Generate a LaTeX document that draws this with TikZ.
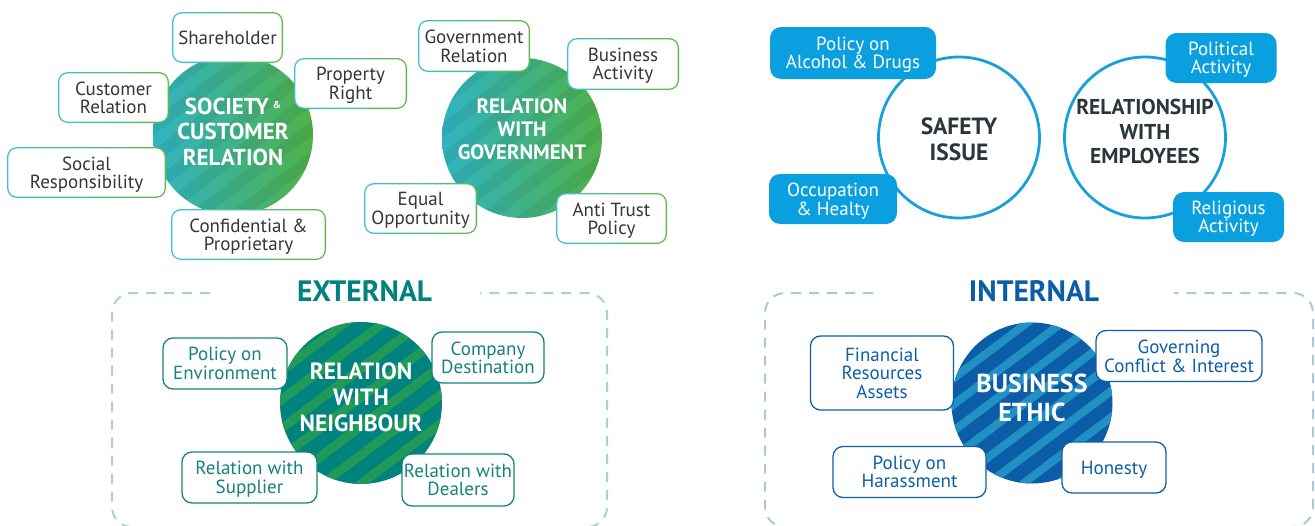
\documentclass[tikz,border=0pt]{standalone}
\usepackage{fontspec}
\setmainfont{PT Sans}
\definecolor{gcyan}{HTML}{40C0D2}
\definecolor{ggreen}{HTML}{63BB46}
\definecolor{soccyan}{HTML}{30B4C3}
\definecolor{socgreen}{HTML}{4FB24A}
\definecolor{cteal}{HTML}{00837E}
\definecolor{cstripeg}{HTML}{1F9A58}
\definecolor{cnavy}{HTML}{0B5DA7}
\definecolor{clightblue}{HTML}{2190C3}
\definecolor{cblue}{HTML}{0AA0E0}
\definecolor{cring}{HTML}{18A0DD}
\definecolor{cdark}{HTML}{2B363C}
\definecolor{ctext}{HTML}{363636}
\definecolor{cdashext}{HTML}{A6D2D2}
\definecolor{cdashint}{HTML}{A8C7E2}
\definecolor{cboxteal}{HTML}{16837F}
\definecolor{cboxnavy}{HTML}{0D5FA8}
\newcommand{\boxfont}{\fontsize{19}{18.5}\selectfont}
% diagonal stripes (rising at 37 degrees) inside a path picture
\newcommand{\mystripes}[3]{%
  \foreach \k in {-7,...,7} {%
    \pgfmathsetmacro{\sa}{\k*#2}%
    \pgfmathsetmacro{\sb}{\k*#2+#3}%
    \pgfmathsetmacro{\ax}{-103.8-\sa*0.6018}\pgfmathsetmacro{\ay}{-78.2+\sa*0.7986}%
    \pgfmathsetmacro{\bx}{103.8-\sa*0.6018}\pgfmathsetmacro{\by}{78.2+\sa*0.7986}%
    \pgfmathsetmacro{\cx}{103.8-\sb*0.6018}\pgfmathsetmacro{\cy}{78.2+\sb*0.7986}%
    \pgfmathsetmacro{\dx}{-103.8-\sb*0.6018}\pgfmathsetmacro{\dy}{-78.2+\sb*0.7986}%
    \fill[#1] ([shift={(\ax pt,\ay pt)}]path picture bounding box.center)
      -- ([shift={(\bx pt,\by pt)}]path picture bounding box.center)
      -- ([shift={(\cx pt,\cy pt)}]path picture bounding box.center)
      -- ([shift={(\dx pt,\dy pt)}]path picture bounding box.center) -- cycle;}}
\begin{document}
\begin{tikzpicture}[x=1pt,y=-1pt,
  gbox/.style={rounded corners=10pt, inner sep=0pt, minimum height=51pt, align=center,
    font=\boxfont, text=ctext, text depth=0pt,
    path picture={\shade[left color=gcyan,right color=ggreen]
        (path picture bounding box.south west) rectangle (path picture bounding box.north east);
      \fill[white,rounded corners=8.6pt]
        ([shift={(1.4pt,1.4pt)}]path picture bounding box.south west) rectangle
        ([shift={(-1.4pt,-1.4pt)}]path picture bounding box.north east);}},
  tbox/.style={rounded corners=10pt, inner sep=0pt, minimum height=51pt, align=center,
    font=\boxfont, text=cboxteal, draw=cboxteal, line width=1.3pt, fill=white, text depth=0pt},
  nbox/.style={rounded corners=10pt, inner sep=0pt, minimum height=51pt, align=center,
    font=\boxfont, text=cboxnavy, draw=cboxnavy, line width=1.3pt, fill=white, text depth=0pt},
  bbox/.style={rounded corners=11pt, inner sep=0pt, minimum height=50pt, align=center,
    font=\boxfont, text=white, fill=cblue, text depth=0pt},
  circ/.style={circle, inner sep=0pt, minimum size=160pt},
  ring/.style={circle, inner sep=0pt, minimum size=161pt, draw=cring, line width=2.8pt, fill=white},
  ctitle/.style={align=center, inner sep=0pt, text=white},
  dtitle/.style={align=center, inner sep=0pt, text=cdark},
  frame/.style={line width=2pt, dash pattern=on 10pt off 8pt, rounded corners=20pt}
]
\useasboundingbox (0,0) rectangle (1315,525);
\clip (0,0) rectangle (1315,525);

% ---------- frames ----------
\draw[frame, draw=cdashext] (210,293) -- (112,293) -- (112,527) -- (607,527) -- (607,293) -- (480,293);
\draw[frame, draw=cdashint] (873,293) -- (765,293) -- (765,527) -- (1313,527) -- (1313,293) -- (1174,293);
\node[inner sep=0pt, text=cteal, font=\fontsize{29.5}{29.5}\selectfont\bfseries] (ext) at (364.5,291.5) {EXTERNAL};
\node[inner sep=0pt, text=cnavy, font=\fontsize{29.5}{29.5}\selectfont\bfseries] (int) at (1034,291.5) {INTERNAL};

% ---------- circles ----------
\node[circ, path picture={\shade[left color=soccyan,right color=socgreen]
   (path picture bounding box.south west) rectangle (path picture bounding box.north east);
   \mystripes{black,opacity=0.06}{24}{12}}] (soc) at (233,135) {};
\node[circ, path picture={\shade[left color=soccyan,right color=socgreen]
   (path picture bounding box.south west) rectangle (path picture bounding box.north east);
   \mystripes{black,opacity=0.06}{24}{12}}] (gov) at (522,138) {};
\node[ring] (saf) at (959,137.5) {};
\node[ring] (emp) at (1145,137.5) {};
\node[circ, minimum size=162pt, fill=cteal, path picture={\mystripes{cstripeg}{23}{9}}] (nei) at (361,403) {};
\node[circ, minimum size=161pt, fill=cnavy, path picture={\mystripes{clightblue}{21}{8}}] (bus) at (1032,403) {};

% ---------- circle titles ----------
\node[ctitle, font=\fontsize{23}{25.5}\selectfont\bfseries] (soct) at (233,131.5)
  {SOCIETY\,\raisebox{6pt}{\fontsize{10}{10}\selectfont\&}\\CUSTOMER\\RELATION};
\node[ctitle, font=\fontsize{20.8}{23}\selectfont\bfseries] (govt) at (522,129)
  {RELATION\\WITH\\GOVERNMENT};
\node[dtitle, font=\fontsize{23.5}{26}\selectfont\bfseries] (saft) at (959,139)
  {SAFETY\\ISSUE};
\node[dtitle, font=\fontsize{21.5}{24.5}\selectfont\bfseries] (empt) at (1145,131.5)
  {RELATIONSHIP\\WITH\\EMPLOYEES};
\node[ctitle, font=\fontsize{23.5}{26}\selectfont\bfseries] (neit) at (361,397)
  {RELATION\\WITH\\NEIGHBOUR};
\node[ctitle, font=\fontsize{26}{29}\selectfont\bfseries] (bust) at (1032,397.5)
  {BUSINESS\\ETHIC};

% ---------- green boxes ----------
\node[gbox, minimum width=111pt] (sh) at (227.5,37.5) {Shareholder};
\node[gbox, minimum width=111pt] (cr) at (113.5,97.5) {Customer\\Relation};
\node[gbox, minimum width=113pt] (pr) at (350.5,83.5) {Property\\Right};
\node[gbox, minimum width=159pt] (sr) at (86.5,172.5) {Social\\Responsibility};
\node[gbox, minimum width=155pt] (cp) at (248.5,234.5) {Confidential \&\\Proprietary};
\node[gbox, minimum width=112pt, minimum height=52pt] (gr) at (474,46) {Government\\Relation};
\node[gbox, minimum width=112pt, minimum height=52pt] (ba) at (623,64) {Business\\Activity};
\node[gbox, minimum width=113pt] (eo) at (420.5,208.5) {Equal\\Opportunity};
\node[gbox, minimum width=111pt] (at) at (611.5,218.5) {Anti Trust\\Policy};

% ---------- blue boxes ----------
\node[bbox, minimum width=166pt, minimum height=52pt] (pad) at (853,53) {Policy on\\Alcohol \& Drugs};
\node[bbox, minimum width=128pt] (oh) at (833,199) {Occupation\\\& Healty};
\node[bbox, minimum width=111pt] (pa) at (1221,58) {Political\\Activity};
\node[bbox, minimum width=111pt] (ra) at (1228.5,217) {Religious\\Activity};

% ---------- teal boxes ----------
\node[tbox, minimum width=124pt] (pe) at (225,363.5) {Policy on\\Environment};
\node[tbox, minimum width=112pt] (cd) at (488,357.5) {Company\\Destination};
\node[tbox, minimum width=135pt] (rs) at (249.5,477.5) {Relation with\\Supplier};
\node[tbox, minimum width=112pt, minimum height=52pt] (rd) at (458,480) {Relation with\\Dealers};

% ---------- navy boxes ----------
\node[nbox, minimum width=143pt, minimum height=74pt] (fr) at (882,373) {Financial\\Resources\\Assets};
\node[nbox, minimum width=166pt] (gc) at (1179,356) {Governing\\Conflict \& Interest};
\node[nbox, minimum width=153pt] (ph) at (909.5,472) {Policy on\\Harassment};
\node[nbox, minimum width=104pt] (ho) at (1114,467.5) {Honesty};
\end{tikzpicture}
\end{document}
